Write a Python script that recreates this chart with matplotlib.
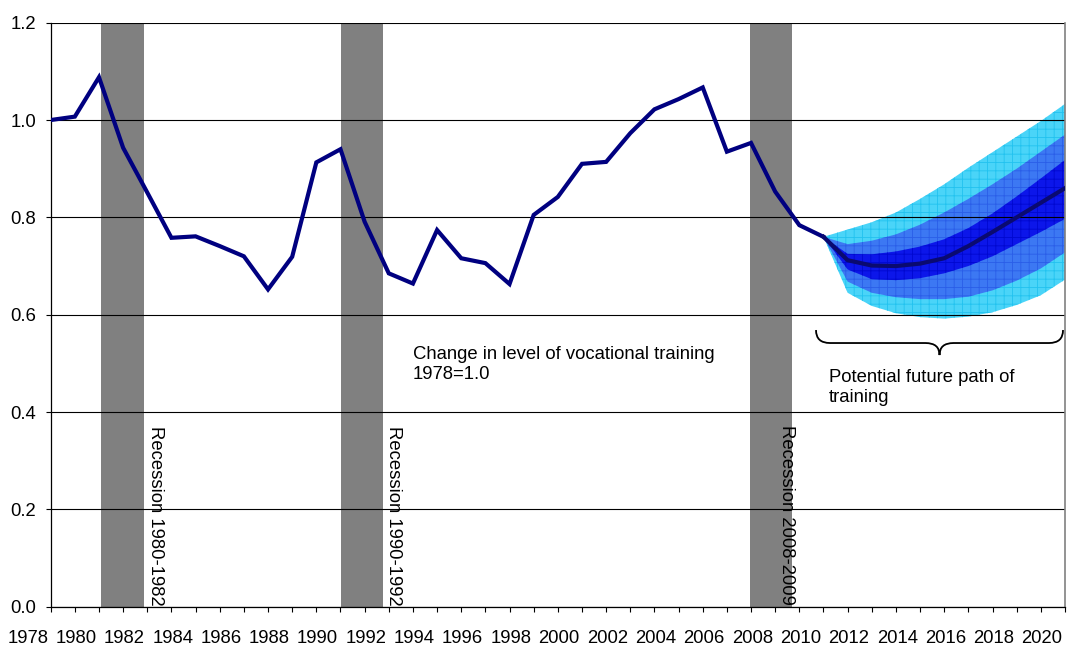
import matplotlib
matplotlib.use("Agg")
import matplotlib.pyplot as plt
from matplotlib.path import Path
from matplotlib.patches import PathPatch

plt.rcParams['font.family'] = ['Liberation Sans', 'DejaVu Sans']
plt.rcParams['hatch.linewidth'] = 0.6

# Vocational training index, 1978 = 1.0
years = list(range(1978, 2011))
training = [1.000, 1.007, 1.088, 0.943, 0.851, 0.758, 0.761, 0.741, 0.720, 0.652,
            0.719, 0.913, 0.940, 0.791, 0.685, 0.664, 0.774, 0.716, 0.706, 0.663,
            0.805, 0.842, 0.910, 0.914, 0.973, 1.022, 1.043, 1.067, 0.935, 0.953,
            0.853, 0.784, 0.760]

# Projection fan 2010-2020
fc_years = list(range(2010, 2021))
fc_central = [0.760, 0.712, 0.701, 0.700, 0.705, 0.716, 0.741, 0.770, 0.800, 0.830, 0.860]
outer_hi = [0.760, 0.775, 0.790, 0.810, 0.838, 0.868, 0.902, 0.934, 0.966, 0.998, 1.033]
mid_hi = [0.760, 0.745, 0.752, 0.765, 0.785, 0.810, 0.838, 0.868, 0.900, 0.935, 0.970]
inner_hi = [0.760, 0.725, 0.724, 0.730, 0.740, 0.755, 0.778, 0.808, 0.843, 0.880, 0.918]
inner_lo = [0.760, 0.693, 0.673, 0.671, 0.675, 0.685, 0.700, 0.720, 0.745, 0.770, 0.797]
mid_lo = [0.760, 0.668, 0.645, 0.636, 0.632, 0.632, 0.637, 0.650, 0.670, 0.695, 0.728]
outer_lo = [0.760, 0.645, 0.618, 0.603, 0.595, 0.592, 0.596, 0.605, 0.620, 0.640, 0.672]

# Recession periods (shaded columns)
recession_start = [1980.08, 1990.02, 2006.96]
recession_end = [1981.88, 1991.75, 2008.71]
recession_labels = ["Recession 1980-1982", "Recession 1990-1992", "Recession 2008-2009"]
recession_label_x = [1982.32, 1992.19, 2008.48]

label_years = list(range(1978, 2021, 2))
y_ticks = [0.0, 0.2, 0.4, 0.6, 0.8, 1.0, 1.2]

FS = 13.3
NAVY = '#000080'

fig = plt.figure(figsize=(10.67, 6.47), dpi=100)
ax = fig.add_axes([0.0475, 0.0623, 0.9506, 0.9026])
ax.set_xlim(1978, 2020)
ax.set_ylim(0, 1.2)

# recession columns
for s, e in zip(recession_start, recession_end):
    ax.axvspan(s, e, color='#808080', lw=0, zorder=1)
for x, txt in zip(recession_label_x, recession_labels):
    ax.text(x, 0.003, txt, rotation=270, ha='center', va='bottom',
            fontsize=FS, color='black', zorder=4)

# projection fan
ax.fill_between(fc_years, outer_lo, outer_hi, facecolor='#4ad4f8', edgecolor='#22c2ef',
                hatch='++', lw=0, zorder=1.1)
ax.fill_between(fc_years, mid_lo, mid_hi, facecolor='#3c78f3', edgecolor='#2a5ee8',
                hatch='++', lw=0, zorder=1.2)
ax.fill_between(fc_years, inner_lo, inner_hi, facecolor='#0c16ea', edgecolor='#0008d0',
                hatch='++', lw=0, zorder=1.3)

# gridlines
ax.set_yticks(y_ticks)
ax.set_yticklabels([f"{v:.1f}" for v in y_ticks], fontsize=FS)
ax.yaxis.grid(True, color='black', lw=0.8, zorder=1.5)
ax.set_axisbelow('line')

# lines
ax.plot(years, training, color=NAVY, lw=3.0, solid_joinstyle='miter', zorder=3)
ax.plot(fc_years, fc_central, color='#0a0a70', lw=3.0, zorder=3)

# axes styling
ax.spines['top'].set_visible(False)
ax.spines['right'].set_color('#808080')
ax.spines['right'].set_linewidth(1.2)
ax.spines['left'].set_color('black')
ax.spines['bottom'].set_color('black')
ax.spines['left'].set_linewidth(0.9)
ax.spines['bottom'].set_linewidth(0.9)
ax.tick_params(axis='y', direction='out', length=3.6, width=0.8, pad=7, colors='black')
ax.set_xticks(list(range(1978, 2021)))
ax.set_xticklabels([])
ax.tick_params(axis='x', direction='out', length=3.6, width=0.8)

# year labels, set slightly left of their ticks
for yr in label_years:
    ax.annotate(str(yr), xy=(yr - 0.95, 0), xycoords=ax.get_xaxis_transform(),
                xytext=(0, -16.5), textcoords='offset points',
                ha='center', va='top', fontsize=FS, annotation_clip=False)

# annotations
ax.text(1993.0, 0.535, "Change in level of vocational training\n1978=1.0",
        fontsize=FS, ha='left', va='top', linespacing=1.2, zorder=4)
ax.text(2010.23, 0.488, "Potential future path of\ntraining",
        fontsize=FS, ha='left', va='top', linespacing=1.2, zorder=4)

# curly brace over the projection period
bx0, bx1 = 2009.69, 2019.92
bmid = (bx0 + bx1) / 2
bcurl = 0.58
y_end, y_bar, y_tip = 0.5685, 0.5418, 0.5171
verts = [(bx0, y_end), (bx0, y_bar), (bx0 + bcurl, y_bar),
         (bmid - bcurl, y_bar),
         (bmid, y_bar), (bmid, y_tip),
         (bmid, y_bar), (bmid + bcurl, y_bar),
         (bx1 - bcurl, y_bar),
         (bx1, y_bar), (bx1, y_end)]
codes = [Path.MOVETO, Path.CURVE3, Path.CURVE3,
         Path.LINETO,
         Path.CURVE3, Path.CURVE3,
         Path.CURVE3, Path.CURVE3,
         Path.LINETO,
         Path.CURVE3, Path.CURVE3]
ax.add_patch(PathPatch(Path(verts, codes), facecolor='none', edgecolor='black',
                       lw=1.3, zorder=4, clip_on=False))

fig.savefig("out.png", dpi=100)
